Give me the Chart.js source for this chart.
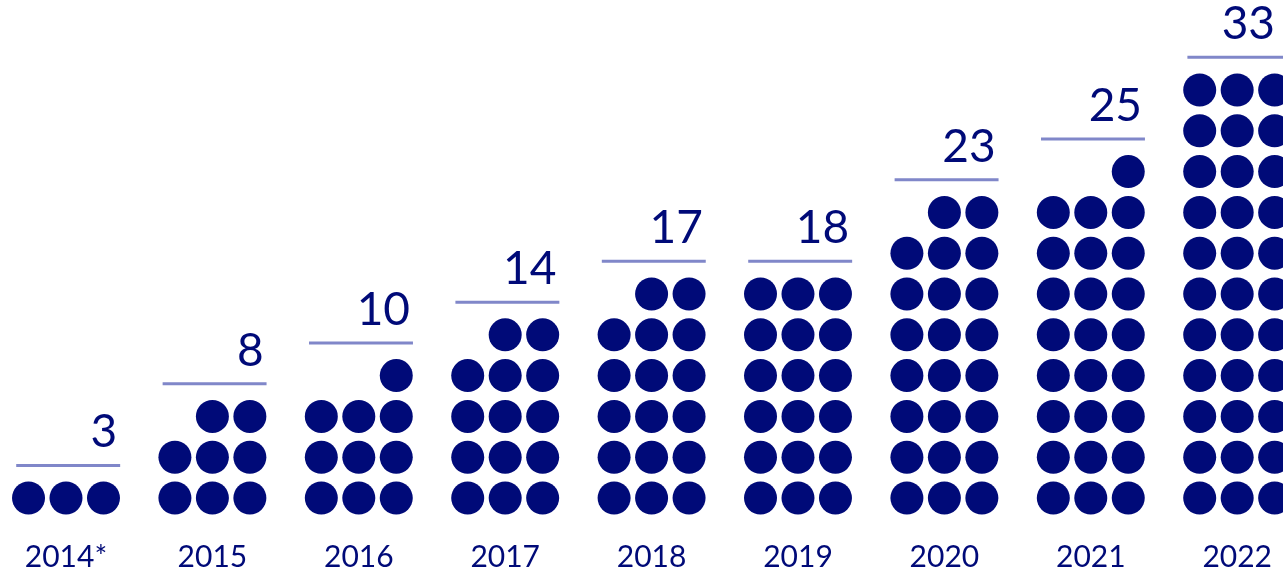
<!DOCTYPE html>
<html>
<head>
<meta charset="utf-8">
<script src="https://cdn.jsdelivr.net/npm/chart.js@4.4.0/dist/chart.umd.min.js"></script>
<style>
  html, body { margin: 0; padding: 0; background: #fff; }
  #wrap { width: 1283px; height: 571px; }
</style>
</head>
<body>
<div id="wrap"><canvas id="dots"></canvas></div>
<script>
'use strict';

const years = ['2014*', '2015', '2016', '2017', '2018', '2019', '2020', '2021', '2022'];
const counts = [3, 8, 10, 14, 17, 18, 23, 25, 33];

const perRow = 3;
const dotStep = 0.256; // gap between dots in a row, in category units
const capGap = 0.8;    // rule sits this many rows above the top row

const navy = '#000a78';
const ruleBlue = '#8087c9';

// one point per dot; the short top row is pushed to the right
let dotPoints = [];
let rulePoints = [];
for (let i = 0; i < counts.length; i++) {
  let full = Math.floor(counts[i] / perRow);
  let rest = counts[i] % perRow;
  for (let k = 0; k < counts[i]; k++) {
    let row = Math.floor(k / perRow);
    let col = k % perRow;
    if (row === full) col += perRow - rest;
    dotPoints.push({x: i + (col - 1) * dotStep, y: row});
  }
  let level = Math.ceil(counts[i] / perRow) - 1 + capGap;
  rulePoints.push({x: i - 0.34, y: level}, {x: i + 0.37, y: level}, {x: i, y: null});
}

// number above each rule, right aligned, kept inside the canvas
const valueLabels = {
  id: 'valueLabels',
  afterDatasetsDraw(chart) {
    const {ctx, chartArea, scales: {x, y}} = chart;
    ctx.save();
    ctx.font = '46px Lato';
    ctx.fillStyle = navy;
    ctx.textAlign = 'right';
    ctx.textBaseline = 'alphabetic';
    for (let i = 0; i < counts.length; i++) {
      let level = Math.ceil(counts[i] / perRow) - 1 + capGap;
      let right = Math.min(x.getPixelForValue(i + 0.35), chartArea.right - 8);
      ctx.fillText(String(counts[i]), right, y.getPixelForValue(level) - 18);
    }
    ctx.restore();
  }
};

new Chart(document.getElementById('dots'), {
  type: 'scatter',
  data: {
    datasets: [{
      data: dotPoints,
      pointRadius: 16.5,
      pointHoverRadius: 16.5,
      pointBorderWidth: 0,
      backgroundColor: navy
    },
    {
      data: rulePoints,
      showLine: true,
      spanGaps: false,
      borderColor: ruleBlue,
      borderWidth: 3,
      pointRadius: 0
    }]
  },
  options: {
    responsive: true,
    maintainAspectRatio: false,
    animation: false,
    layout: { padding: 0, autoPadding: false },
    plugins: {
      legend: { display: false },
      tooltip: { enabled: false }
    },
    scales: {
      x: {
        type: 'linear',
        min: -0.4508,
        max: 8.313,
        grid: { display: false, drawTicks: false },
        border: { display: false },
        afterBuildTicks: axis => {
          axis.ticks = years.map((_, i) => ({value: i}));
        },
        ticks: {
          autoSkip: false,
          maxRotation: 0,
          padding: 0,
          color: navy,
          font: { family: 'Lato', size: 30, lineHeight: 0.9 },
          callback: (v, idx) => years[idx]
        }
      },
      y: {
        display: false,
        min: -1.127,
        max: 12.206
      }
    }
  },
  plugins: [valueLabels]
});
</script>
</body>
</html>
